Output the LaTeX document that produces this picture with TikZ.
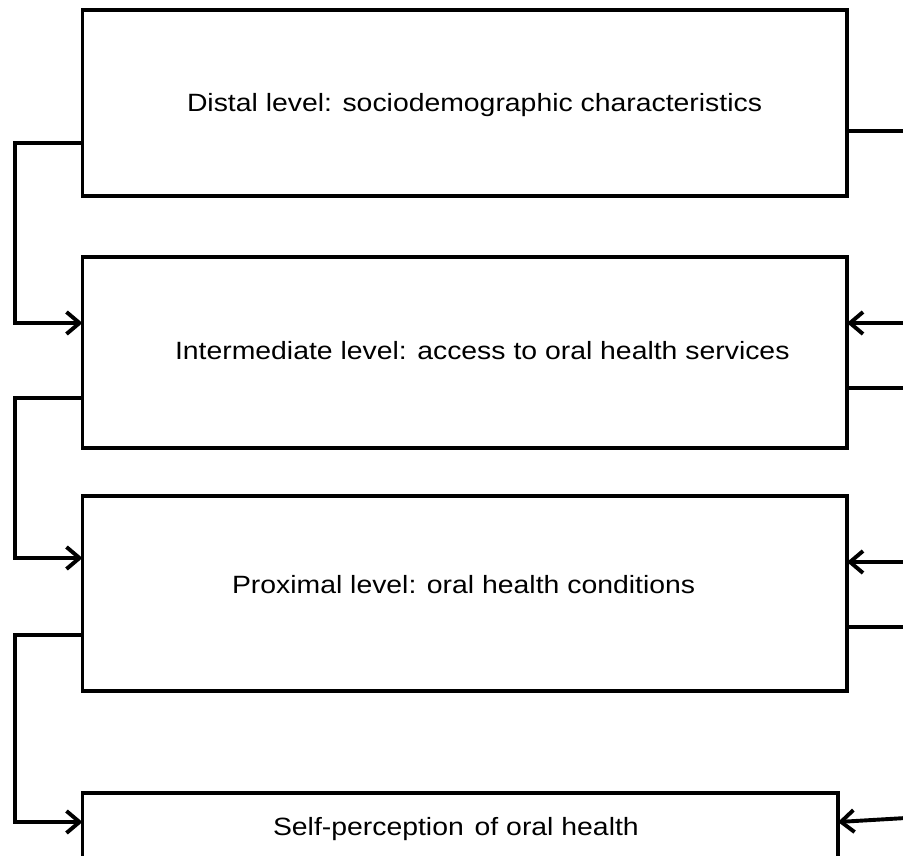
\documentclass[tikz,border=0pt]{standalone}
\usepackage{fontspec}
\setmainfont[FakeStretch=1.135]{Liberation Sans}
\usetikzlibrary{arrows.meta}
\begin{document}
\begin{tikzpicture}[x=1pt,y=-1pt,
  levelbox/.style={draw=black,line width=3.9pt,rectangle,inner sep=0pt,outer sep=0pt},
  lbl/.style={anchor=base west,inner sep=0pt,outer sep=0pt,font=\fontsize{25pt}{29pt}\selectfont,text=black},
  conn/.style={line width=3.9pt,draw=black},
  arr/.style={conn,-{Straight Barb[length=13pt,width=22pt]}}]
\clip (0,0) rectangle (903,856);
\fill[white] (0,0) rectangle (903,856);
% boxes
\node[levelbox,minimum width=764.5pt,minimum height=186pt] (b1) at (464.75,103) {};
\node[levelbox,minimum width=764.5pt,minimum height=191pt] (b2) at (464.75,352.5) {};
\node[levelbox,minimum width=764.5pt,minimum height=195pt] (b3) at (464.75,593.5) {};
\node[levelbox,minimum width=755.5pt,minimum height=79pt] (b4) at (460.25,832.5) {};
% texts
\node[lbl] (t1) at (187,112) {Distal level: sociodemographic characteristics};
\node[lbl] (t2) at (175,359) {Intermediate level: access to oral health services};
\node[lbl] (t3) at (232,593) {Proximal level: oral health conditions};
\node[lbl] (t4) at (273,835) {Self-perception\hspace{3pt} of oral health};
% right free ends
\coordinate (r1) at (906,131);
\coordinate (r2) at (906,323);
\coordinate (r3) at (906,388);
\coordinate (r4) at (906,562);
\coordinate (r5) at (906,627);
\coordinate (r6) at (906,818);
% left connectors
\draw[arr] ([yshift=-40pt]b1.west) -- ++(-67.5,0) |- ([yshift=29.5pt]b2.west);
\draw[arr] ([yshift=-45.5pt]b2.west) -- ++(-67.5,0) |- ([yshift=35.5pt]b3.west);
\draw[arr] ([yshift=-41.5pt]b3.west) -- ++(-67.5,0) |- ([yshift=10.5pt]b4.west);
% right connectors
\draw[conn] ([yshift=-28pt]b1.east) -- (r1);
\draw[arr] (r2) -- ([yshift=29.5pt]b2.east);
\draw[conn] ([yshift=-35.5pt]b2.east) -- (r3);
\draw[arr] (r4) -- ([yshift=31.5pt]b3.east);
\draw[conn] ([yshift=-33.5pt]b3.east) -- (r5);
\draw[arr] (r6) -- ([yshift=10.5pt]b4.east);
\end{tikzpicture}
\end{document}
